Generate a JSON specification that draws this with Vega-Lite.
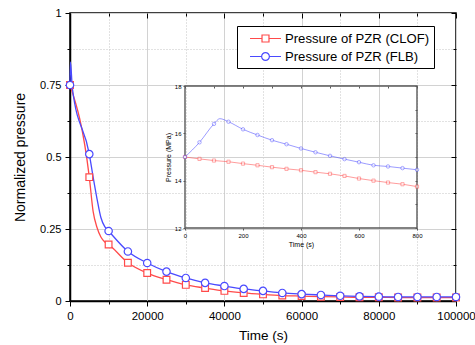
{
  "$schema": "https://vega.github.io/schema/vega-lite/v6.json",
  "width": 386,
  "height": 288,
  "autosize": {"type": "none"},
  "padding": {"left": 70, "top": 13, "right": 19, "bottom": 44},
  "background": "white",
  "config": {
    "font": "Liberation Sans",
    "view": {"stroke": "black", "strokeWidth": 1.5},
    "axis": {"labelColor": "black", "titleColor": "black", "titleFontWeight": "normal", "domainColor": "black", "tickColor": "black", "labelFont": "Liberation Sans", "titleFont": "Liberation Sans"},
    "legend": {"orient": "none", "legendX": 167, "legendY": 13, "padding": 4, "fillColor": "white", "strokeColor": "black", "strokeWidth": 1, "labelFontSize": 13.1, "labelColor": "black", "labelFont": "Liberation Sans", "labelLimit": 300, "symbolSize": 240, "symbolOffset": 16, "symbolStrokeWidth": 1.2, "rowPadding": 2, "labelOffset": 11}
  },
  "datasets": {
    "main": [
      {"t": 0, "series": "Pressure of PZR (CLOF)", "v": 0.75},
      {"t": 5000, "series": "Pressure of PZR (CLOF)", "v": 0.43},
      {"t": 6000, "series": "Pressure of PZR (CLOF)", "v": 0.31},
      {"t": 7000, "series": "Pressure of PZR (CLOF)", "v": 0.255},
      {"t": 8000, "series": "Pressure of PZR (CLOF)", "v": 0.222},
      {"t": 9000, "series": "Pressure of PZR (CLOF)", "v": 0.205},
      {"t": 10000, "series": "Pressure of PZR (CLOF)", "v": 0.196},
      {"t": 15000, "series": "Pressure of PZR (CLOF)", "v": 0.133},
      {"t": 20000, "series": "Pressure of PZR (CLOF)", "v": 0.097},
      {"t": 25000, "series": "Pressure of PZR (CLOF)", "v": 0.074},
      {"t": 30000, "series": "Pressure of PZR (CLOF)", "v": 0.056},
      {"t": 35000, "series": "Pressure of PZR (CLOF)", "v": 0.045},
      {"t": 40000, "series": "Pressure of PZR (CLOF)", "v": 0.035},
      {"t": 45000, "series": "Pressure of PZR (CLOF)", "v": 0.028},
      {"t": 50000, "series": "Pressure of PZR (CLOF)", "v": 0.023},
      {"t": 55000, "series": "Pressure of PZR (CLOF)", "v": 0.019},
      {"t": 60000, "series": "Pressure of PZR (CLOF)", "v": 0.017},
      {"t": 65000, "series": "Pressure of PZR (CLOF)", "v": 0.015},
      {"t": 70000, "series": "Pressure of PZR (CLOF)", "v": 0.014},
      {"t": 75000, "series": "Pressure of PZR (CLOF)", "v": 0.013},
      {"t": 80000, "series": "Pressure of PZR (CLOF)", "v": 0.013},
      {"t": 85000, "series": "Pressure of PZR (CLOF)", "v": 0.012},
      {"t": 90000, "series": "Pressure of PZR (CLOF)", "v": 0.012},
      {"t": 95000, "series": "Pressure of PZR (CLOF)", "v": 0.012},
      {"t": 100000, "series": "Pressure of PZR (CLOF)", "v": 0.012},
      {"t": 0, "series": "Pressure of PZR (FLB)", "v": 0.75},
      {"t": 120, "series": "Pressure of PZR (FLB)", "v": 0.83},
      {"t": 600, "series": "Pressure of PZR (FLB)", "v": 0.74},
      {"t": 5000, "series": "Pressure of PZR (FLB)", "v": 0.51},
      {"t": 6000, "series": "Pressure of PZR (FLB)", "v": 0.43},
      {"t": 7000, "series": "Pressure of PZR (FLB)", "v": 0.355},
      {"t": 8000, "series": "Pressure of PZR (FLB)", "v": 0.29},
      {"t": 9000, "series": "Pressure of PZR (FLB)", "v": 0.258},
      {"t": 10000, "series": "Pressure of PZR (FLB)", "v": 0.243},
      {"t": 15000, "series": "Pressure of PZR (FLB)", "v": 0.172},
      {"t": 20000, "series": "Pressure of PZR (FLB)", "v": 0.132},
      {"t": 25000, "series": "Pressure of PZR (FLB)", "v": 0.102},
      {"t": 30000, "series": "Pressure of PZR (FLB)", "v": 0.08},
      {"t": 35000, "series": "Pressure of PZR (FLB)", "v": 0.063},
      {"t": 40000, "series": "Pressure of PZR (FLB)", "v": 0.052},
      {"t": 45000, "series": "Pressure of PZR (FLB)", "v": 0.042},
      {"t": 50000, "series": "Pressure of PZR (FLB)", "v": 0.035},
      {"t": 55000, "series": "Pressure of PZR (FLB)", "v": 0.028},
      {"t": 60000, "series": "Pressure of PZR (FLB)", "v": 0.024},
      {"t": 65000, "series": "Pressure of PZR (FLB)", "v": 0.021},
      {"t": 70000, "series": "Pressure of PZR (FLB)", "v": 0.018},
      {"t": 75000, "series": "Pressure of PZR (FLB)", "v": 0.016},
      {"t": 80000, "series": "Pressure of PZR (FLB)", "v": 0.015},
      {"t": 85000, "series": "Pressure of PZR (FLB)", "v": 0.014},
      {"t": 90000, "series": "Pressure of PZR (FLB)", "v": 0.014},
      {"t": 95000, "series": "Pressure of PZR (FLB)", "v": 0.014},
      {"t": 100000, "series": "Pressure of PZR (FLB)", "v": 0.014}
    ],
    "inset": [
      {"t": 0, "series": "Pressure of PZR (CLOF)", "p": 15.0},
      {"t": 50, "series": "Pressure of PZR (CLOF)", "p": 14.92},
      {"t": 100, "series": "Pressure of PZR (CLOF)", "p": 14.85},
      {"t": 150, "series": "Pressure of PZR (CLOF)", "p": 14.8},
      {"t": 200, "series": "Pressure of PZR (CLOF)", "p": 14.72},
      {"t": 250, "series": "Pressure of PZR (CLOF)", "p": 14.65},
      {"t": 300, "series": "Pressure of PZR (CLOF)", "p": 14.57},
      {"t": 350, "series": "Pressure of PZR (CLOF)", "p": 14.5},
      {"t": 400, "series": "Pressure of PZR (CLOF)", "p": 14.44},
      {"t": 450, "series": "Pressure of PZR (CLOF)", "p": 14.36},
      {"t": 500, "series": "Pressure of PZR (CLOF)", "p": 14.29},
      {"t": 550, "series": "Pressure of PZR (CLOF)", "p": 14.2},
      {"t": 600, "series": "Pressure of PZR (CLOF)", "p": 14.09},
      {"t": 650, "series": "Pressure of PZR (CLOF)", "p": 14.0},
      {"t": 700, "series": "Pressure of PZR (CLOF)", "p": 13.92},
      {"t": 750, "series": "Pressure of PZR (CLOF)", "p": 13.85},
      {"t": 800, "series": "Pressure of PZR (CLOF)", "p": 13.75},
      {"t": 0, "series": "Pressure of PZR (FLB)", "p": 15.0},
      {"t": 50, "series": "Pressure of PZR (FLB)", "p": 15.62},
      {"t": 100, "series": "Pressure of PZR (FLB)", "p": 16.4},
      {"t": 120, "series": "Pressure of PZR (FLB)", "p": 16.62},
      {"t": 150, "series": "Pressure of PZR (FLB)", "p": 16.49},
      {"t": 200, "series": "Pressure of PZR (FLB)", "p": 16.17},
      {"t": 250, "series": "Pressure of PZR (FLB)", "p": 15.93},
      {"t": 300, "series": "Pressure of PZR (FLB)", "p": 15.71},
      {"t": 350, "series": "Pressure of PZR (FLB)", "p": 15.54},
      {"t": 400, "series": "Pressure of PZR (FLB)", "p": 15.36},
      {"t": 450, "series": "Pressure of PZR (FLB)", "p": 15.2},
      {"t": 500, "series": "Pressure of PZR (FLB)", "p": 15.05},
      {"t": 550, "series": "Pressure of PZR (FLB)", "p": 14.91},
      {"t": 600, "series": "Pressure of PZR (FLB)", "p": 14.78},
      {"t": 650, "series": "Pressure of PZR (FLB)", "p": 14.65},
      {"t": 700, "series": "Pressure of PZR (FLB)", "p": 14.6},
      {"t": 750, "series": "Pressure of PZR (FLB)", "p": 14.53},
      {"t": 800, "series": "Pressure of PZR (FLB)", "p": 14.46}
    ],
    "frame": [{"x0": 0, "x1": 800, "y0": 12, "y1": 18}]
  },
  "layer": [
    {
      "data": {"name": "main"},
      "layer": [
        {
          "transform": [{"filter": "false"}],
          "mark": {"type": "point", "opacity": 0},
          "encoding": {
            "x": {"field": "t", "type": "quantitative", "scale": {"domain": [0, 100000], "nice": false, "zero": false},
                  "axis": {"orient": "bottom", "values": [10000, 30000, 50000, 70000, 90000], "grid": true, "gridDash": [1, 2], "gridColor": "#c4c4c4", "labels": false, "tickSize": 3, "domain": false, "title": null}},
            "y": {"field": "v", "type": "quantitative", "scale": {"domain": [0, 1], "nice": false, "zero": false},
                  "axis": {"orient": "left", "values": [0.125, 0.375, 0.625, 0.875], "grid": true, "gridDash": [1, 2], "gridColor": "#c4c4c4", "labels": false, "tickSize": 3, "domain": false, "title": null}}
          }
        },
        {
          "transform": [{"filter": "false"}],
          "mark": {"type": "point", "opacity": 0},
          "encoding": {
            "x": {"field": "t", "type": "quantitative",
                  "axis": {"orient": "top", "values": [0, 20000, 40000, 60000, 80000, 100000], "grid": false, "labels": false, "tickSize": -5, "domain": false, "title": null}},
            "y": {"field": "v", "type": "quantitative",
                  "axis": {"orient": "right", "values": [0, 0.25, 0.5, 0.75, 1], "grid": false, "labels": false, "tickSize": -5, "domain": false, "title": null}}
          }
        },
        {
          "transform": [{"filter": "false"}],
          "mark": {"type": "point", "opacity": 0},
          "encoding": {
            "x": {"field": "t", "type": "quantitative",
                  "axis": {"orient": "top", "values": [10000, 30000, 50000, 70000, 90000], "grid": false, "labels": false, "tickSize": -3, "domain": false, "title": null}},
            "y": {"field": "v", "type": "quantitative",
                  "axis": {"orient": "right", "values": [0.125, 0.375, 0.625, 0.875], "grid": false, "labels": false, "tickSize": -3, "domain": false, "title": null}}
          }
        },
        {
          "mark": {"type": "line", "interpolate": "monotone", "strokeWidth": 1.3},
          "encoding": {
            "x": {"field": "t", "type": "quantitative",
                  "axis": {"orient": "bottom", "values": [0, 20000, 40000, 60000, 80000, 100000], "format": "d", "grid": true, "gridColor": "#d2d2d2", "tickSize": 5, "labelFontSize": 11.5, "labelPadding": 4, "labelFlush": false, "domainWidth": 1.5, "title": "Time (s)", "titleFontSize": 13.5, "titlePadding": 7}},
            "y": {"field": "v", "type": "quantitative",
                  "axis": {"orient": "left", "values": [0, 0.25, 0.5, 0.75, 1], "format": ".2~f", "grid": true, "gridColor": "#d2d2d2", "tickSize": 5, "labelFontSize": 11, "labelPadding": 4, "labelFlush": false, "domainWidth": 1.5, "title": "Normalized pressure", "titleFontSize": 14, "titlePadding": 12}},
            "color": {"field": "series", "type": "nominal",
                      "scale": {"domain": ["Pressure of PZR (CLOF)", "Pressure of PZR (FLB)"], "range": ["#ff4a4a", "#4a4aff"]},
                      "legend": {"title": null}}
          }
        },
        {
          "transform": [{"filter": "datum.t % 5000 == 0 && datum.series == 'Pressure of PZR (CLOF)'"}],
          "mark": {"type": "point", "shape": "square", "filled": false, "fill": "white", "fillOpacity": 1, "opacity": 1, "size": 45, "strokeWidth": 1.2},
          "encoding": {
            "x": {"field": "t", "type": "quantitative", "axis": null},
            "y": {"field": "v", "type": "quantitative", "axis": null},
            "color": {"field": "series", "type": "nominal", "legend": {"title": null}}
          }
        },
        {
          "transform": [{"filter": "datum.t % 5000 == 0 && datum.series == 'Pressure of PZR (FLB)'"}],
          "mark": {"type": "point", "shape": "circle", "filled": false, "fill": "white", "fillOpacity": 1, "opacity": 1, "size": 55, "strokeWidth": 1.2},
          "encoding": {
            "x": {"field": "t", "type": "quantitative", "axis": null},
            "y": {"field": "v", "type": "quantitative", "axis": null},
            "color": {"field": "series", "type": "nominal", "legend": {"title": null}}
          }
        },
        {
          "transform": [{"filter": "false"}],
          "mark": {"type": "point", "filled": false, "opacity": 1, "strokeWidth": 1.2},
          "encoding": {
            "x": {"field": "t", "type": "quantitative", "axis": null},
            "y": {"field": "v", "type": "quantitative", "axis": null},
            "color": {"field": "series", "type": "nominal", "legend": {"title": null}},
            "shape": {"field": "series", "type": "nominal",
                      "scale": {"domain": ["Pressure of PZR (CLOF)", "Pressure of PZR (FLB)"],
                                "range": ["M-2,0H-0.45M0.45,0H2M-0.45,-0.45H0.45V0.45H-0.45Z", "M-2,0H-0.5M0.5,0H2M-0.5,0A0.5,0.5,0,1,1,0.5,0A0.5,0.5,0,1,1,-0.5,0Z"]},
                      "legend": {"title": null}}
          }
        }
      ],
      "resolve": {"axis": {"x": "independent", "y": "independent"}}
    },
    {
      "layer": [
        {
          "data": {"name": "frame"},
          "mark": {"type": "rect", "fillOpacity": 0, "stroke": "#5a5a5a", "strokeWidth": 1.4},
          "encoding": {
            "x": {"field": "x0", "type": "quantitative", "scale": {"domain": [0, 800], "range": [115, 347], "nice": false, "zero": false}, "axis": null},
            "x2": {"field": "x1"},
            "y": {"field": "y0", "type": "quantitative", "scale": {"domain": [12, 18], "range": [215, 73], "nice": false, "zero": false}, "axis": null},
            "y2": {"field": "y1"}
          }
        },
        {
          "data": {"name": "inset"},
          "transform": [{"filter": "false"}],
          "mark": {"type": "point", "opacity": 0},
          "encoding": {
            "x": {"field": "t", "type": "quantitative",
                  "axis": {"orient": "top", "offset": -73, "values": [0, 100, 200, 300, 400, 500, 600, 700, 800], "grid": false, "labels": false, "tickSize": -2, "tickColor": "#5a5a5a", "domain": false, "title": null}},
            "y": {"field": "p", "type": "quantitative",
                  "axis": {"orient": "right", "offset": -39, "values": [12, 13, 14, 15, 16, 17, 18], "grid": false, "labels": false, "tickSize": -2, "tickColor": "#5a5a5a", "domain": false, "title": null}}
          }
        },
        {
          "data": {"name": "inset"},
          "mark": {"type": "line", "interpolate": "monotone", "strokeWidth": 1, "opacity": 0.55},
          "encoding": {
            "x": {"field": "t", "type": "quantitative",
                  "axis": {"orient": "bottom", "offset": -73, "values": [0, 200, 400, 600, 800], "grid": false, "tickSize": 2, "tickColor": "#5a5a5a", "domain": false, "labelFontSize": 6, "labelPadding": 2, "labelFlush": false, "title": "Time (s)", "titleFontSize": 7, "titlePadding": 2}},
            "y": {"field": "p", "type": "quantitative",
                  "axis": {"orient": "left", "offset": -115, "values": [12, 14, 16, 18], "grid": false, "tickSize": 2, "tickColor": "#5a5a5a", "domain": false, "labelFontSize": 6, "labelPadding": 2, "labelFlush": false, "title": "Pressure (MPa)", "titleFontSize": 7, "titlePadding": 3}},
            "color": {"field": "series", "type": "nominal", "legend": null}
          }
        },
        {
          "data": {"name": "inset"},
          "transform": [{"filter": "datum.t % 50 == 0 && datum.series == 'Pressure of PZR (CLOF)'"}],
          "mark": {"type": "point", "shape": "square", "filled": false, "fill": "white", "fillOpacity": 1, "opacity": 0.6, "size": 10, "strokeWidth": 0.8},
          "encoding": {
            "x": {"field": "t", "type": "quantitative", "axis": null},
            "y": {"field": "p", "type": "quantitative", "axis": null},
            "color": {"field": "series", "type": "nominal", "legend": null}
          }
        },
        {
          "data": {"name": "inset"},
          "transform": [{"filter": "datum.t % 50 == 0 && datum.series == 'Pressure of PZR (FLB)'"}],
          "mark": {"type": "point", "shape": "circle", "filled": false, "fill": "white", "fillOpacity": 1, "opacity": 0.6, "size": 12, "strokeWidth": 0.8},
          "encoding": {
            "x": {"field": "t", "type": "quantitative", "axis": null},
            "y": {"field": "p", "type": "quantitative", "axis": null},
            "color": {"field": "series", "type": "nominal", "legend": null}
          }
        }
      ],
      "resolve": {"axis": {"x": "independent", "y": "independent"}}
    }
  ],
  "resolve": {"scale": {"x": "independent", "y": "independent"}, "axis": {"x": "independent", "y": "independent"}}
}
